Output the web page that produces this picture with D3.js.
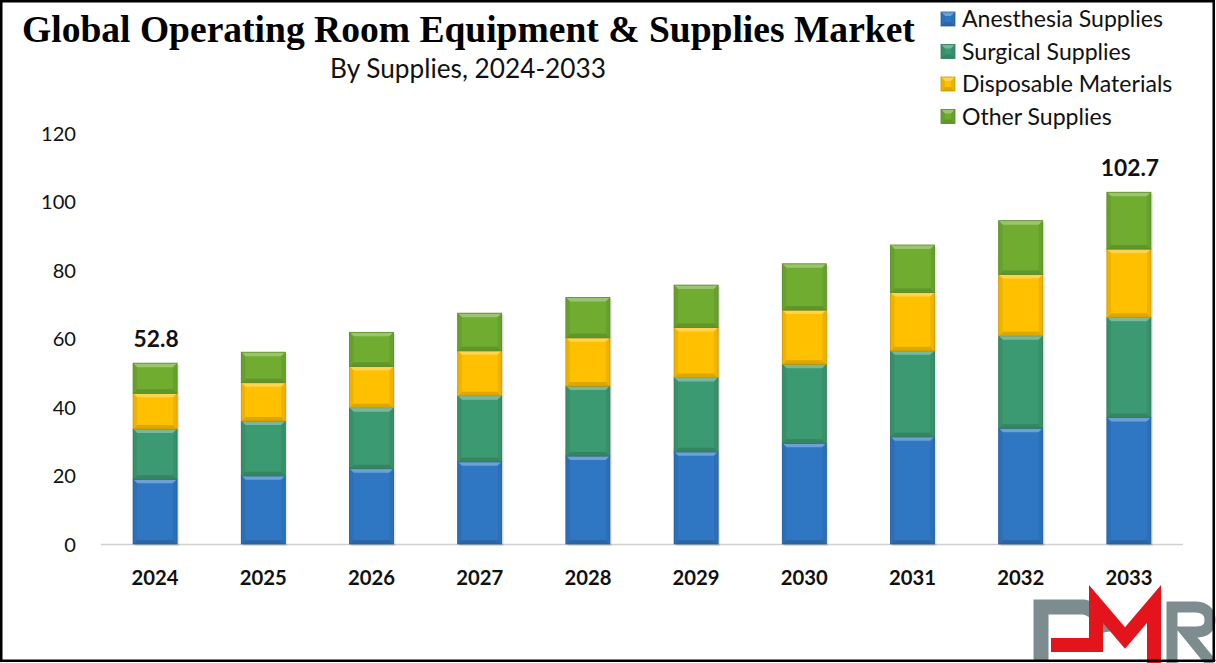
<!DOCTYPE html>
<html><head><meta charset="utf-8">
<script src="https://cdn.jsdelivr.net/npm/d3@7"></script>
<style>html,body{margin:0;padding:0;background:#fff}svg{display:block}</style>
</head><body>
<svg id="c" width="1216" height="663"></svg>
<script>
const years = ["2024","2025","2026","2027","2028","2029","2030","2031","2032","2033"];
const seriesNames = ["Anesthesia Supplies","Surgical Supplies","Disposable Materials","Other Supplies"];
const anesthesia = [18.9,19.9,22.0,24.0,25.7,26.9,29.4,31.3,33.8,36.9];
const surgical   = [14.7,16.0,17.8,19.3,20.4,21.7,23.1,25.1,27.0,29.3];
const disposable = [10.4,11.2,12.0,13.1,14.1,14.6,15.8,17.0,17.9,19.9];
const other      = [8.8,8.9,10.0,11.0,11.8,12.4,13.5,13.9,15.7,16.6];
const yTicks = [0,20,40,60,80,100,120];
const totalLabels = {"2024":"52.8","2033":"102.7"};
const colors = ["#2F77C2","#3C9A72","#FFC000","#6FAC30"];

const FONT = "Lato, 'Open Sans', sans-serif";
const svg = d3.select("#c");

function fitSize(sample, target, weight, family){
  const t = svg.append("text").attr("font-family",family||FONT).attr("font-weight",weight||"normal")
    .attr("font-size",100).text(sample);
  const w = t.node().getComputedTextLength();
  t.remove();
  return 100*target/w;
}
const fsTick = fitSize("120",35,"normal");
const fsYear = fitSize("2024",47,"bold");
const fsTotal = fitSize("52.8",45,"bold");
const fsLegend = fitSize("Anesthesia Supplies",201,"normal");
const fsSub = fitSize("By Supplies, 2024-2033",276,"normal");

const keys = ["a","s","d","o"];
const rows = years.map((y,i)=>({year:y,a:anesthesia[i],s:surgical[i],d:disposable[i],o:other[i]}));
const stack = d3.stack().keys(keys)(rows);

const x = d3.scaleBand().domain(years).range([101,1183]).paddingInner(0.593).paddingOuter(0.2965);
const y = d3.scaleLinear().domain([0,120]).range([544,133]);

svg.append("line").attr("x1",101).attr("x2",1183).attr("y1",y(0)+0.5).attr("y2",y(0)+0.5)
  .attr("stroke","#d0d0d0").attr("stroke-width",1.5);

const yAxis = d3.axisLeft(y).tickValues(yTicks).tickSize(0).tickPadding(0);
const yg = svg.append("g").attr("transform","translate(76,0)").call(yAxis);
yg.select(".domain").remove();
yg.selectAll("text").attr("font-family",FONT).attr("font-size",fsTick).attr("fill","#111").attr("dy","0.35em");

const xAxis = d3.axisBottom(x).tickSize(0).tickPadding(0);
const xg = svg.append("g").attr("transform","translate(0,578)").call(xAxis);
xg.select(".domain").remove();
xg.selectAll("text").attr("font-family",FONT).attr("font-weight","bold").attr("font-size",fsYear).attr("fill","#111").attr("dy","0.35em");

function bevel(g, x0, y0, w, h, base){
  const c = d3.color(base);
  const light = d3.interpolateRgb(base,"#ffffff")(0.3);
  const dark = c.darker(0.6).formatHex();
  const side = c.darker(0.2).formatHex();
  const b = Math.min(4, h/2, w/2);
  g.append("rect").attr("x",x0).attr("y",y0).attr("width",w).attr("height",h).attr("fill",base);
  g.append("polygon").attr("points",[[x0,y0],[x0+w,y0],[x0+w-b,y0+b],[x0+b,y0+b]].join(" ")).attr("fill",light);
  g.append("polygon").attr("points",[[x0,y0+h],[x0+w,y0+h],[x0+w-b,y0+h-b],[x0+b,y0+h-b]].join(" ")).attr("fill",dark).attr("opacity",0.7);
  g.append("polygon").attr("points",[[x0,y0],[x0+b,y0+b],[x0+b,y0+h-b],[x0,y0+h]].join(" ")).attr("fill",side);
  g.append("polygon").attr("points",[[x0+w,y0],[x0+w-b,y0+b],[x0+w-b,y0+h-b],[x0+w,y0+h]].join(" ")).attr("fill",side);
  g.append("rect").attr("x",x0).attr("y",y0).attr("width",w).attr("height",h).attr("fill","none").attr("stroke",dark).attr("stroke-width",0.8);
}

svg.append("g").selectAll("rect").data(rows).join("rect")
  .attr("x",d=>x(d.year)+2).attr("y",d=>y(d.a+d.s+d.d+d.o)+2)
  .attr("width",x.bandwidth()).attr("height",d=>y(0)-y(d.a+d.s+d.d+d.o))
  .attr("fill","#000").attr("opacity",0.1);

const bars = svg.append("g");
stack.forEach((ser,si)=>{
  ser.forEach((seg,i)=>{
    const yr = years[i];
    bevel(bars, x(yr), y(seg[1]), x.bandwidth(), y(seg[0])-y(seg[1]), colors[si]);
  });
});

svg.append("g").selectAll("text").data(rows.filter(d=>totalLabels[d.year])).join("text")
  .attr("x",d=>x(d.year)+x.bandwidth()/2+1)
  .attr("y",d=>y(d.a+d.s+d.d+d.o)-16)
  .attr("text-anchor","middle").attr("font-family",FONT).attr("font-weight","bold")
  .attr("font-size",fsTotal).attr("fill","#111").text(d=>totalLabels[d.year]);

const title = svg.append("text").attr("x",22).attr("y",42).attr("font-family","'Liberation Serif','Times New Roman',serif")
  .attr("font-weight","bold").attr("font-size",36).attr("fill","#000")
  .text("Global Operating Room Equipment & Supplies Market");
const tw = title.node().getComputedTextLength();
title.attr("font-size", 36*893/tw);

svg.append("text").attr("x",468).attr("y",78).attr("text-anchor","middle")
  .attr("font-family",FONT).attr("font-size",fsSub).attr("fill","#111")
  .text("By Supplies, 2024-2033");

const lg = svg.append("g");
seriesNames.forEach((n,i)=>{
  const cy = 19 + i*32.5;
  bevel(lg, 941, cy-7, 14, 14, colors[i]);
  lg.append("text").attr("x",962).attr("y",cy).attr("dy","0.35em")
    .attr("font-family",FONT).attr("font-size",fsLegend).attr("fill","#111").text(n);
});

// DMR logo
const logo = svg.append("g");
logo.append("path").attr("d","M1041,662 L1041,607 L1084,607 Q1103,612 1106,632")
  .attr("fill","none").attr("stroke","#7D8D8F").attr("stroke-width",15);
logo.append("path").attr("d","M1051,645 L1096,645 L1096,604 L1125,638 L1154,604 L1154,664")
  .attr("fill","none").attr("stroke","#E3141B").attr("stroke-width",14).attr("stroke-linejoin","miter").attr("stroke-miterlimit",3);
logo.append("path").attr("d","M1172,664 L1172,607 L1196,607 Q1210,608 1210,620 Q1210,632 1196,632 L1186,632 L1212,664")
  .attr("fill","none").attr("stroke","#7D8D8F").attr("stroke-width",11);

svg.append("rect").attr("x",1.25).attr("y",1.25).attr("width",1212.5).attr("height",659.5)
  .attr("fill","none").attr("stroke","#000").attr("stroke-width",2.5);
</script>
</body></html>
